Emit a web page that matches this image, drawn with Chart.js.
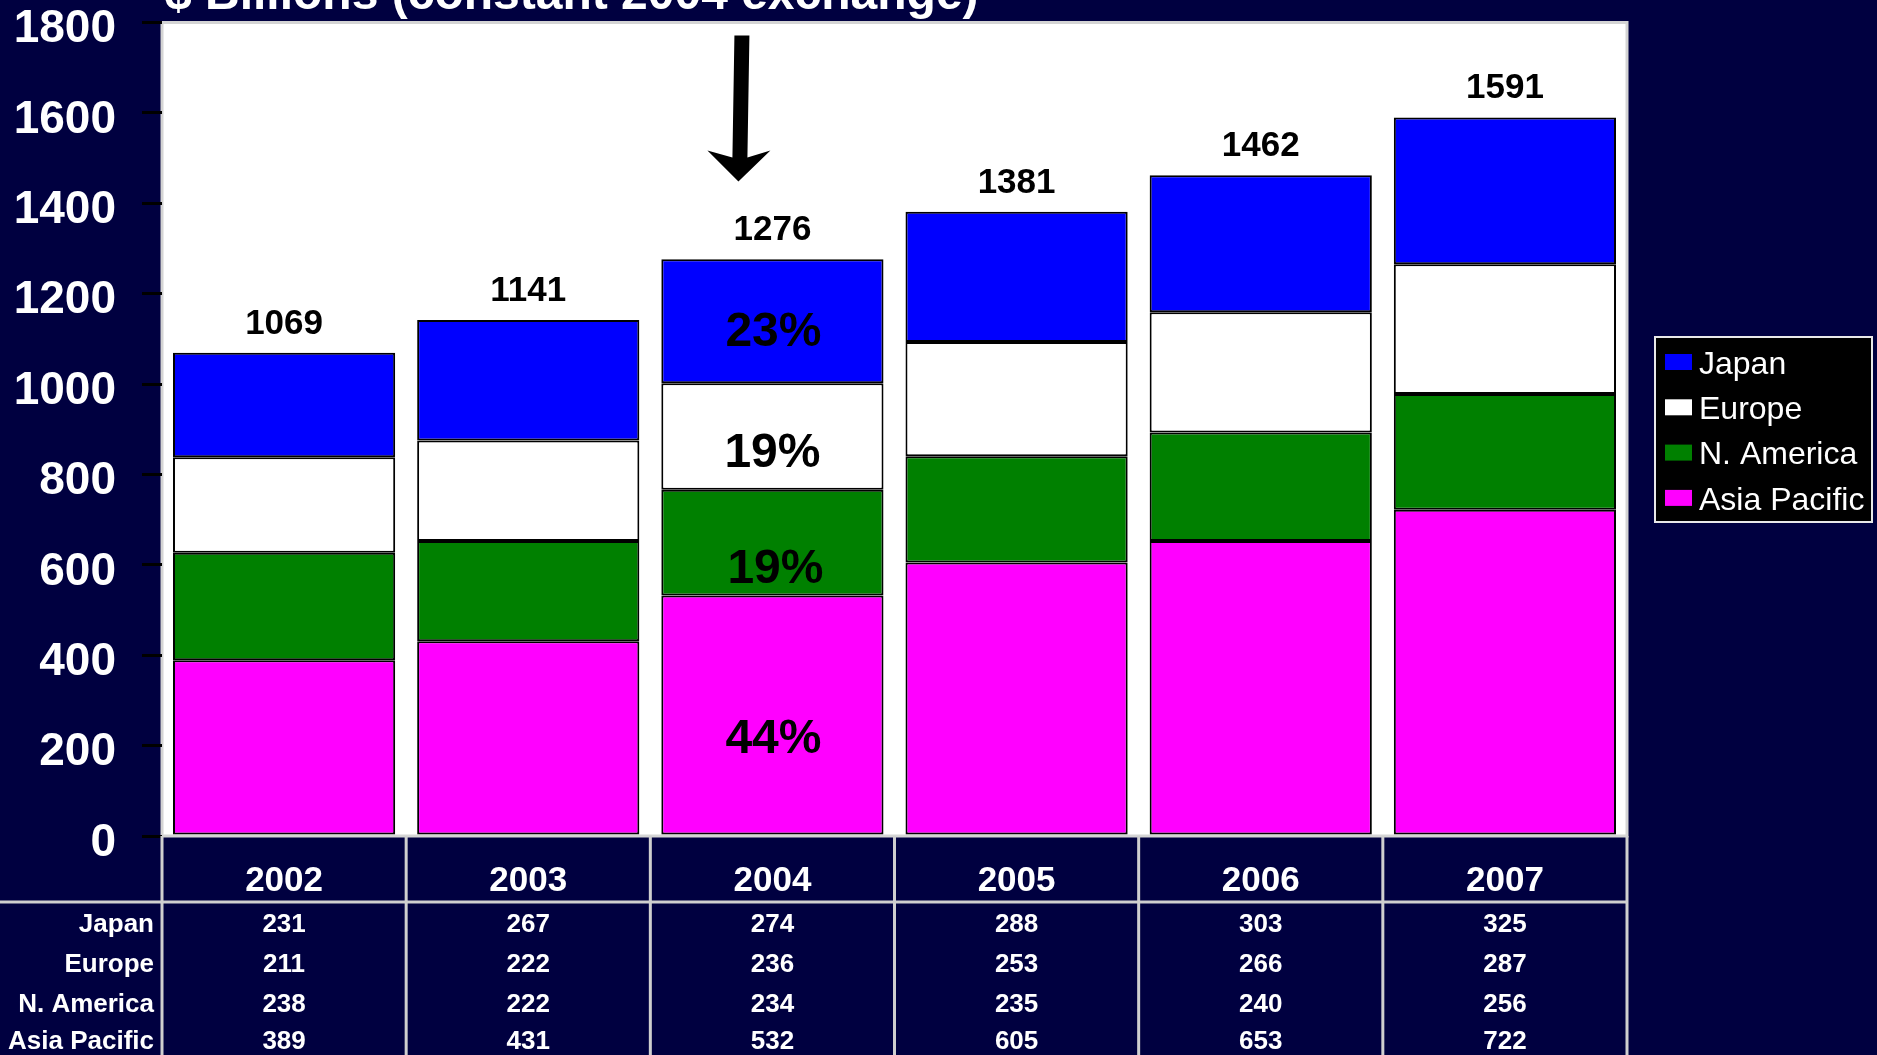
<!DOCTYPE html>
<html>
<head>
<meta charset="utf-8">
<script src="https://cdn.jsdelivr.net/npm/chart.js@4"></script>
<style>
    body { margin: 0; background: #000040; }
    #wrap { width: 1877px; height: 1055px; position: relative; }
</style>
</head>
<body>
<div id="wrap"><canvas id="regionChart"></canvas></div>
<script>
const years = ["2002", "2003", "2004", "2005", "2006", "2007"];
const japan = [231, 267, 274, 288, 303, 325];
const europe = [211, 222, 236, 253, 266, 287];
const nAmerica = [238, 222, 234, 235, 240, 256];
const asiaPacific = [389, 431, 532, 605, 653, 722];
const totals = [1069, 1141, 1276, 1381, 1462, 1591];
const yTicks = [0, 200, 400, 600, 800, 1000, 1200, 1400, 1600, 1800];
// share labels written inside the 2004 column, top to bottom
const shareLabels = ["23%", "19%", "19%", "44%"];
const titleText = "$ Billions (constant 2004 exchange)";

const FONT = "'Liberation Sans', Arial, sans-serif";
const chartCanvas = document.getElementById("regionChart");

// series listed bottom-up, legend is shown top-down
const series = [
    { label: "Asia Pacific", data: asiaPacific, color: "#ff00ff" },
    { label: "N. America", data: nAmerica, color: "#008000" },
    { label: "Europe", data: europe, color: "#ffffff" },
    { label: "Japan", data: japan, color: "#0000ff" },
];

const plotBackground = {
    id: "plotBackground",
    beforeDraw(chart) {
        const { ctx, chartArea: a } = chart;
        ctx.save();
        ctx.fillStyle = "#ffffff";
        ctx.fillRect(a.left, a.top, a.right - a.left, a.bottom - a.top);
        ctx.strokeStyle = "#d4d4d4";
        ctx.lineWidth = 3;
        ctx.strokeRect(a.left, a.top, a.right - a.left, a.bottom - a.top);
        ctx.restore();
    },
};

const annotations = {
    id: "annotations",
    afterDatasetsDraw(chart) {
        const { ctx } = chart;
        const x = chart.scales.x;
        const y = chart.scales.y;
        ctx.save();

        // totals above each column
        ctx.fillStyle = "#000";
        ctx.font = `bold 35px ${FONT}`;
        ctx.textAlign = "center";
        ctx.textBaseline = "middle";
        totals.forEach((t, i) => {
            ctx.fillText(String(t), x.getPixelForValue(i), y.getPixelForValue(t) - 29);
        });

        // share labels in the 2004 column
        const col = 2;
        const stacks = [japan, europe, nAmerica, asiaPacific];
        const offsets = [12, 17, 27, 24];
        const shiftX = [1, 0, 3, 1];
        let running = asiaPacific[col] + nAmerica[col] + europe[col] + japan[col];
        ctx.font = `bold 48px ${FONT}`;
        stacks.forEach((s, k) => {
            const hi = running;
            const lo = running - s[col];
            const mid = (y.getPixelForValue(hi) + y.getPixelForValue(lo)) / 2;
            ctx.fillText(shareLabels[k], x.getPixelForValue(col) + shiftX[k], mid + offsets[k]);
            running = lo;
        });

        // arrow pointing at 2004
        const ax = x.getPixelForValue(col) - 31;
        const shaftTop = y.getPixelForValue(1771);
        const tip = y.getPixelForValue(1448);
        ctx.fillStyle = "#000";
        ctx.beginPath();
        ctx.moveTo(ax - 7, shaftTop);
        ctx.lineTo(ax + 8, shaftTop);
        ctx.lineTo(ax + 6, tip - 24);
        ctx.lineTo(ax + 29, tip - 31);
        ctx.lineTo(ax - 3, tip);
        ctx.lineTo(ax - 34, tip - 31);
        ctx.lineTo(ax - 9, tip - 24);
        ctx.closePath();
        ctx.fill();
        ctx.restore();
    },
    afterDraw(chart) {
        const { ctx, chartArea: a } = chart;
        const x = chart.scales.x;
        const y = chart.scales.y;
        const step = (a.right - a.left) / years.length;
        ctx.save();

        // y tick labels, sitting a little below their tick marks like the slide
        ctx.fillStyle = "#fff";
        ctx.font = `bold 46px ${FONT}`;
        ctx.textAlign = "right";
        ctx.textBaseline = "middle";
        y.ticks.forEach((t) => {
            ctx.fillText(String(t.value), a.left - 46, y.getPixelForValue(t.value) + 7);
        });

        // title (cut at the top edge as in the slide)
        ctx.font = `bold 48px ${FONT}`;
        ctx.textAlign = "left";
        ctx.textBaseline = "alphabetic";
        ctx.fillText(titleText, a.left + 3, 9);

        // data table under the plot
        ctx.strokeStyle = "#cfcfcf";
        ctx.lineWidth = 3;
        ctx.beginPath();
        for (let i = 0; i <= years.length; i++) {
            const gx = a.left + step * i;
            ctx.moveTo(gx, a.bottom);
            ctx.lineTo(gx, 1055);
        }
        ctx.moveTo(0, a.bottom + 66);
        ctx.lineTo(a.right, a.bottom + 66);
        ctx.stroke();

        ctx.fillStyle = "#fff";
        ctx.textAlign = "center";
        ctx.textBaseline = "middle";
        ctx.font = `bold 35px ${FONT}`;
        years.forEach((yr, i) => ctx.fillText(yr, x.getPixelForValue(i), a.bottom + 45));

        const rows = [japan, europe, nAmerica, asiaPacific];
        const rowNames = ["Japan", "Europe", "N. America", "Asia Pacific"];
        const rowY = [89, 129, 169, 206];
        ctx.font = `bold 26px ${FONT}`;
        rows.forEach((r, k) => {
            ctx.textAlign = "right";
            ctx.fillText(rowNames[k], a.left - 8, a.bottom + rowY[k]);
            ctx.textAlign = "center";
            r.forEach((v, i) => ctx.fillText(String(v), x.getPixelForValue(i), a.bottom + rowY[k]));
        });

        // legend box
        const lx = 1655, ly = 337, lw = 217, lh = 185;
        ctx.fillStyle = "#000";
        ctx.fillRect(lx, ly, lw, lh);
        ctx.strokeStyle = "#e8e8e8";
        ctx.lineWidth = 2;
        ctx.strokeRect(lx, ly, lw, lh);
        ctx.font = `32px ${FONT}`;
        ctx.textAlign = "left";
        series.slice().reverse().forEach((s, k) => {
            const cy = ly + 25 + k * 45.3;
            ctx.fillStyle = s.color;
            ctx.fillRect(lx + 10, cy - 8, 27, 16);
            ctx.fillStyle = "#fff";
            ctx.fillText(s.label, lx + 44, cy + 3);
        });
        ctx.restore();
    },
};

new Chart(chartCanvas, {
    type: "bar",
    data: {
        labels: years,
        datasets: series.map((s) => ({
            label: s.label,
            data: s.data,
            backgroundColor: s.color,
            borderColor: "#000",
            borderWidth: 2,
            borderSkipped: false,
            categoryPercentage: 1,
            barPercentage: 0.91,
        })),
    },
    options: {
        responsive: true,
        maintainAspectRatio: false,
        animation: false,
        layout: {
            padding: { left: 0, top: 22.5, right: 250, bottom: 219 },
        },
        plugins: {
            legend: { display: false },
            tooltip: { enabled: false },
        },
        scales: {
            x: {
                stacked: true,
                display: false,
            },
            y: {
                stacked: true,
                min: yTicks[0],
                max: yTicks[yTicks.length - 1],
                afterFit(scale) {
                    scale.width = 162;
                    scale.paddingTop = 0;
                    scale.paddingBottom = 0;
                },
                afterBuildTicks(scale) {
                    scale.ticks = yTicks.map((v) => ({ value: v }));
                },
                ticks: { display: false },
                grid: {
                    drawOnChartArea: false,
                    drawTicks: true,
                    tickLength: 20,
                    color: "#000",
                    lineWidth: 3,
                },
                border: { display: false },
            },
        },
    },
    plugins: [plotBackground, annotations],
});
</script>
</body>
</html>
